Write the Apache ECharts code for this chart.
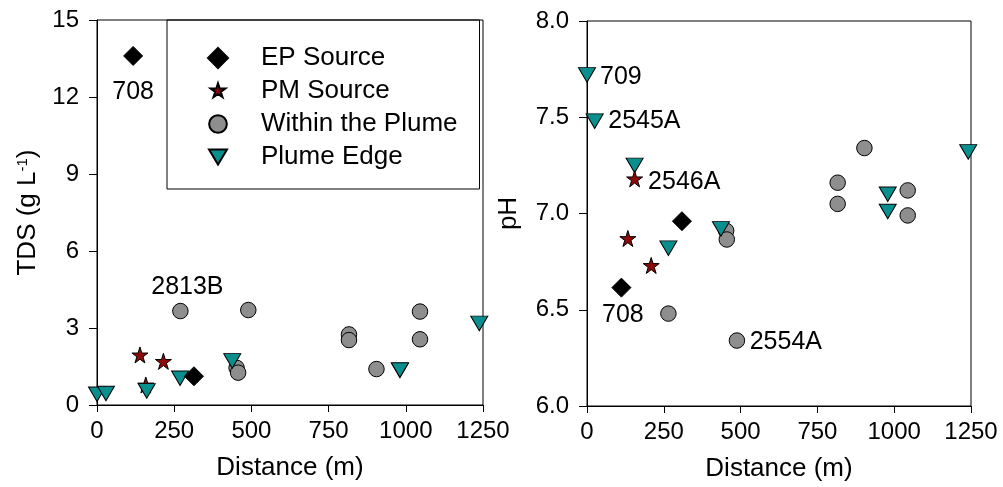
<!DOCTYPE html>
<html>
<head>
<meta charset="utf-8">
<script src="https://cdn.jsdelivr.net/npm/echarts@6/dist/echarts.min.js"></script>
<style>
html,body{margin:0;padding:0;background:#fff;}
#chart{width:1003px;height:487px;}
</style>
</head>
<body>
<div id="chart"></div>
<script>
// ---- Data ----
var seriesNames = ['EP Source', 'PM Source', 'Within the Plume', 'Plume Edge'];
var xTicks = [0, 250, 500, 750, 1000, 1250];
var tdsTicks = [0, 3, 6, 9, 12, 15];
var phTicks = [6.0, 6.5, 7.0, 7.5, 8.0];

// Left panel: TDS (g/L) vs distance (m)
var tdsEpDist = [117, 314];
var tdsEpVal = [13.6, 1.12];
var tdsEpLabel = ['708', ''];

var tdsPmDist = [139, 215, 158];
var tdsPmVal = [1.95, 1.70, 0.78];

var tdsPlumeDist = [270, 452, 457, 490, 816, 816, 905, 1046, 1046];
var tdsPlumeVal = [3.66, 1.45, 1.26, 3.70, 2.75, 2.53, 1.40, 3.64, 2.56];
var tdsPlumeLabel = ['2813B', '', '', '', '', '', '', '', ''];

var tdsEdgeDist = [0, 29, 161, 269, 438, 981, 981, 1238];
var tdsEdgeVal = [0.42, 0.45, 0.55, 1.04, 1.72, 1.36, 1.36, 3.18];

// Right panel: pH vs distance (m)
var phEpDist = [112, 309];
var phEpVal = [6.615, 6.96];
var phEpLabel = ['708', ''];

var phPmDist = [133, 155, 209];
var phPmVal = [6.87, 7.18, 6.73];
var phPmLabel = ['', '2546A', ''];

var phPlumeDist = [265, 453, 455, 488, 816, 816, 903, 1044, 1044];
var phPlumeVal = [6.48, 6.91, 6.865, 6.34, 7.16, 7.05, 7.34, 7.12, 6.99];
var phPlumeLabel = ['', '', '', '2554A', '', '', '', '', ''];

var phEdgeDist = [0, 25, 155, 265, 436, 979, 979, 1241];
var phEdgeVal = [7.72, 7.48, 7.25, 6.82, 6.92, 7.10, 7.01, 7.32];
var phEdgeLabel = ['709', '2545A', '', '', '', '', '', ''];

// ---- Styles ----
var FONT = 'Liberation Sans, Arial, sans-serif';
var labelStyles = {
  'left:708':   { position: 'bottom', distance: 14 },
  'left:2813B': { position: 'top', distance: 3, offset: [7, 0] },
  'right:708':  { position: 'bottom', distance: 5, offset: [1.5, 0] },
  'right:709':  { position: 'right', distance: 4, offset: [0, 2] },
  'right:2545A':{ position: 'right', distance: 4.5, offset: [0, 0] },
  'right:2546A':{ position: 'right', distance: 5, offset: [0, 3.5] },
  'right:2554A':{ position: 'right', distance: 4.5, offset: [0, 1.5] }
};
var TRI = 'path://M0,0L18,0L9,15Z';
var STAR = 'path://M0,-10L2.25,-3.09L9.51,-3.09L3.63,1.18L5.88,8.09L0,3.82L-5.88,8.09L-3.63,1.18L-9.51,-3.09L-2.25,-3.09Z';
var colors = { ep: '#000000', pm: '#8b0a0a', plume: '#8e8e8e', edge: '#0a8f8f' };

function makeData(side, xs, ys, labels) {
  return xs.map(function (x, i) {
    var item = { value: [x, ys[i]] };
    var t = labels ? labels[i] : '';
    if (t) {
      var st = labelStyles[side + ':' + t] || {};
      item.label = {
        show: true, formatter: t, position: st.position, distance: st.distance,
        offset: st.offset || [0, 0], color: '#000', fontFamily: FONT, fontSize: 25
      };
    }
    return item;
  });
}

function scatter(name, idx, side, xs, ys, labels, sym, size, color, z) {
  return {
    type: 'scatter', name: name, xAxisIndex: idx, yAxisIndex: idx,
    symbol: sym, symbolSize: size, symbolKeepAspect: false, clip: false, z: z,
    itemStyle: { color: color, borderColor: '#000', borderWidth: 1, opacity: 1 },
    emphasis: { disabled: true },
    label: { show: false },
    data: makeData(side, xs, ys, labels)
  };
}

function xAxisCfg(idx) {
  return {
    type: 'value', gridIndex: idx, min: xTicks[0], max: xTicks[xTicks.length - 1], interval: 250,
    name: 'Distance (m)', nameLocation: 'middle', nameGap: 50,
    nameTextStyle: { color: '#000', fontFamily: FONT, fontSize: 26 },
    axisLine: { show: true, onZero: false, lineStyle: { color: '#000', width: 1 } },
    axisTick: { show: true, inside: false, length: 7, lineStyle: { color: '#000', width: 1 } },
    axisLabel: { color: '#000', fontFamily: FONT, fontSize: 24, margin: 14, showMinLabel: true, showMaxLabel: true,
      formatter: function (v) { return String(v); } },
    splitLine: { show: false }
  };
}

var option = {
  animation: false,
  backgroundColor: '#fff',
  grid: [
    { left: 97, top: 20, width: 386, height: 385, show: true, borderColor: '#000', borderWidth: 1, backgroundColor: 'transparent' },
    { left: 587, top: 21, width: 384, height: 385, show: true, borderColor: '#000', borderWidth: 1, backgroundColor: 'transparent' }
  ],
  xAxis: [xAxisCfg(0), xAxisCfg(1)],
  yAxis: [
    {
      type: 'value', gridIndex: 0, min: tdsTicks[0], max: tdsTicks[tdsTicks.length - 1], interval: 3,
      name: '{a|TDS (g L}{s|-1}{a|)}', nameLocation: 'middle', nameGap: 56, nameRotate: 90,
      nameTextStyle: { color: '#000', fontFamily: FONT, fontSize: 26,
        rich: { a: { fontFamily: FONT, fontSize: 26, color: '#000' },
                s: { fontFamily: FONT, fontSize: 15, color: '#000', verticalAlign: 'top' } } },
      axisLine: { show: true, onZero: false, lineStyle: { color: '#000', width: 1 } },
      axisTick: { show: true, inside: false, length: 8, lineStyle: { color: '#000', width: 1 } },
      axisLabel: { color: '#000', fontFamily: FONT, fontSize: 24, margin: 18,
        formatter: function (v) { return String(v); } },
      splitLine: { show: false }
    },
    {
      type: 'value', gridIndex: 1, min: phTicks[0], max: phTicks[phTicks.length - 1], interval: 0.5,
      name: 'pH', nameLocation: 'middle', nameGap: 65, nameRotate: 90,
      nameTextStyle: { color: '#000', fontFamily: FONT, fontSize: 26 },
      axisLine: { show: true, onZero: false, lineStyle: { color: '#000', width: 1 } },
      axisTick: { show: true, inside: false, length: 8, lineStyle: { color: '#000', width: 1 } },
      axisLabel: { color: '#000', fontFamily: FONT, fontSize: 24, margin: 18,
        formatter: function (v) { return v.toFixed(1); } },
      splitLine: { show: false }
    }
  ],
  legend: {
    orient: 'vertical', left: 167, top: 20,
    padding: [25, 22, 19, 40],
    itemWidth: 20, itemHeight: 20, itemGap: 7,
    borderColor: '#000', borderWidth: 1, backgroundColor: 'transparent',
    selectedMode: false,
    textStyle: { color: '#000', fontFamily: FONT, fontSize: 26, lineHeight: 20, padding: [0, 0, 0, 28] },
    data: [
      { name: seriesNames[0], icon: 'diamond' },
      { name: seriesNames[1], icon: 'path://M-13,-13M13,13M0,-10L2.25,-3.09L9.51,-3.09L3.63,1.18L5.88,8.09L0,3.82L-5.88,8.09L-3.63,1.18L-9.51,-3.09L-2.25,-3.09Z' },
      { name: seriesNames[2], icon: 'path://M0,0M20,20M10,1.15A8.85,8.85,0,1,1,10,18.85A8.85,8.85,0,1,1,10,1.15Z' },
      { name: seriesNames[3], icon: 'path://M-1,-2.5M19,17.5M0,0L18,0L9,15Z' }
    ]
  },
  series: [
    scatter(seriesNames[0], 0, 'left', tdsEpDist, tdsEpVal, tdsEpLabel, 'diamond', 19, colors.ep, 5),
    scatter(seriesNames[1], 0, 'left', tdsPmDist, tdsPmVal, null, STAR, [16, 16], colors.pm, 3),
    scatter(seriesNames[2], 0, 'left', tdsPlumeDist, tdsPlumeVal, tdsPlumeLabel, 'circle', 15.5, colors.plume, 2),
    scatter(seriesNames[3], 0, 'left', tdsEdgeDist, tdsEdgeVal, null, TRI, [17, 14.5], colors.edge, 4),
    scatter(seriesNames[0], 1, 'right', phEpDist, phEpVal, phEpLabel, 'diamond', 19, colors.ep, 5),
    scatter(seriesNames[1], 1, 'right', phPmDist, phPmVal, phPmLabel, STAR, [16, 16], colors.pm, 4),
    scatter(seriesNames[2], 1, 'right', phPlumeDist, phPlumeVal, phPlumeLabel, 'circle', 15.5, colors.plume, 2),
    scatter(seriesNames[3], 1, 'right', phEdgeDist, phEdgeVal, phEdgeLabel, TRI, [17, 14.5], colors.edge, 3)
  ]
};

var chart = echarts.init(document.getElementById('chart'), null, { renderer: 'canvas' });
chart.setOption(option);
</script>
</body>
</html>
